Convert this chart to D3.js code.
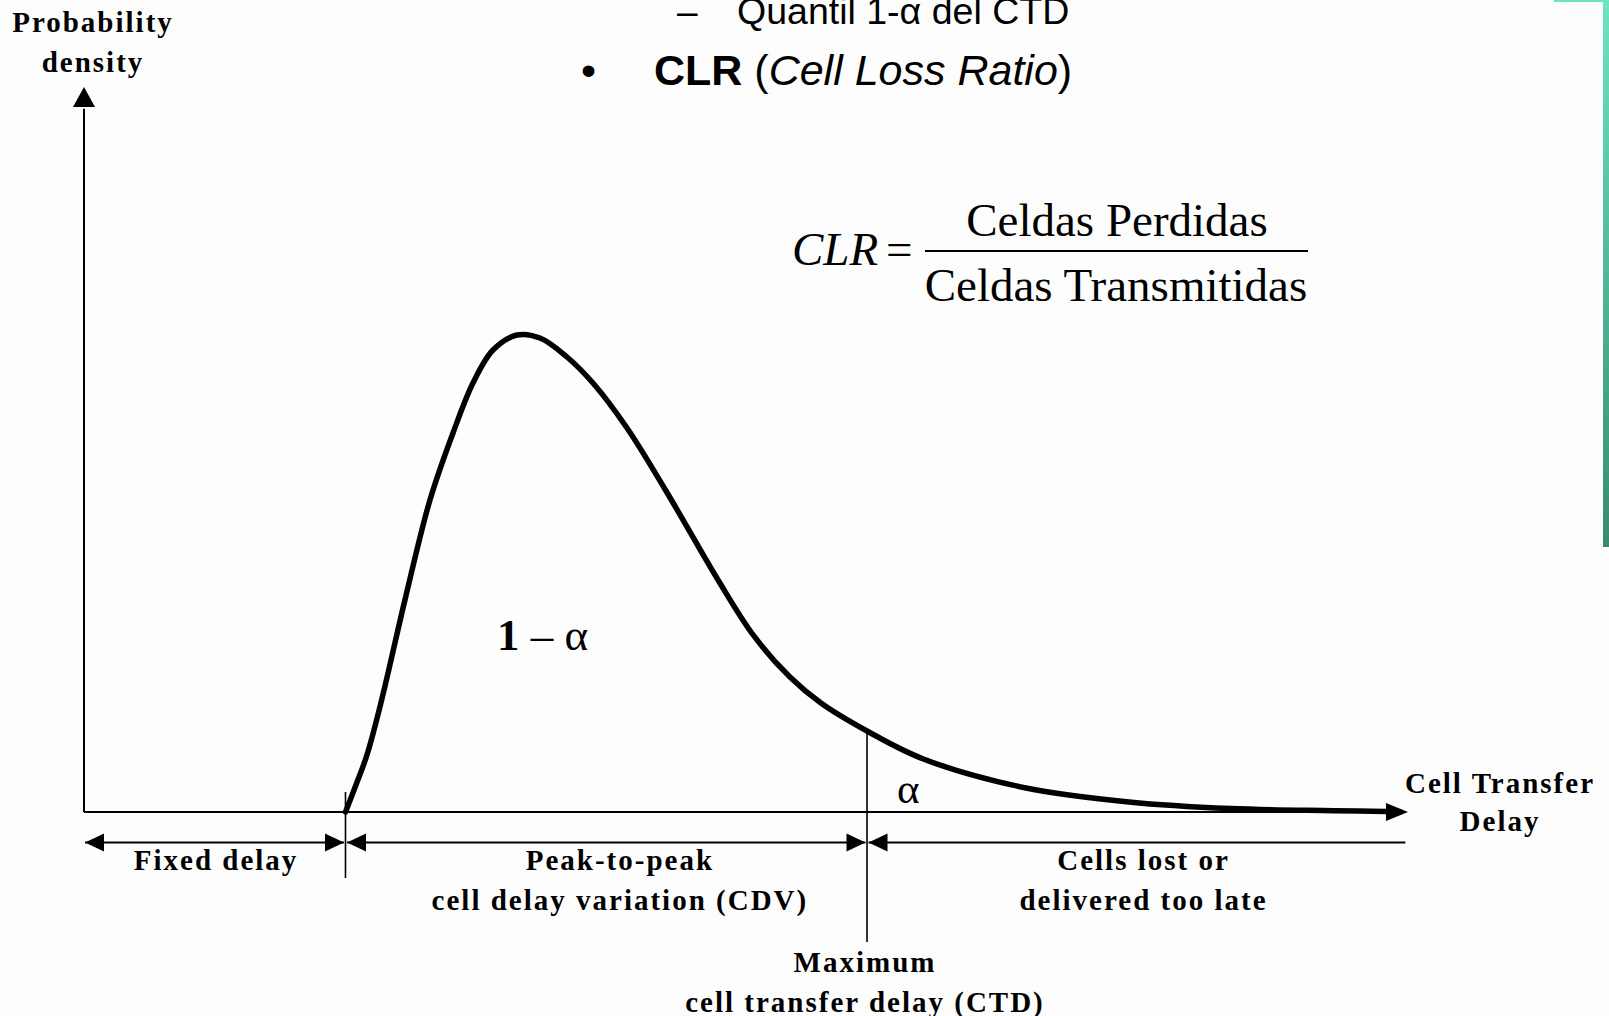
<!DOCTYPE html>
<html>
<head>
<meta charset="utf-8">
<script src="https://cdn.jsdelivr.net/npm/d3@7"></script>
<style>
  html, body { margin: 0; padding: 0; background: #fdfdfd; }
  svg { display: block; }
</style>
</head>
<body>
<svg id="chart" width="1609" height="1016"></svg>
<script>
// ---- data ----
// cell transfer delay (arbitrary units, 0..100) and probability density (0..100)
const curveDelay   = [19.75, 20.54, 21.37, 22.48, 24.24, 26.13, 27.87, 29.38, 30.89, 32.70, 34.44, 36.48, 38.44, 41.00, 44.03, 47.89, 50.60, 53.32, 55.66, 59.14, 63.40, 71.15, 78.93, 86.63, 94.40, 99.40];
const curveDensity = [0.00, 3.72, 7.86, 15.45, 29.24, 43.03, 52.28, 59.17, 63.72, 65.79, 65.38, 62.76, 59.17, 53.00, 44.07, 32.00, 24.28, 18.62, 15.03, 11.17, 7.31, 3.31, 1.38, 0.47, 0.18, 0.04];
const fixedDelay = 19.75;     // end of fixed delay
const maxCTD = 59.14;         // maximum cell transfer delay (1-alpha quantile)
const axisEnd = 100;          // end of delay axis
const regionSpans = [          // [from, to, leftArrow, rightArrow]
  [0, fixedDelay, true, true],
  [fixedDelay, maxCTD, true, true],
  [maxCTD, 99.8, true, false]
];
const regionLabels = [
  {lines: ["Fixed delay"], at: 9.9},
  {lines: ["Peak-to-peak", "cell delay variation (CDV)"], at: 40.4},
  {lines: ["Cells lost or", "delivered too late"], at: 79.95}
];
const yAxisTitle = ["Probability", "density"];
const xAxisTitle = ["Cell Transfer", "Delay"];
const ctdLabel = ["Maximum", "cell transfer delay (CTD)"];

// ---- scales ----
const x = d3.scaleLinear().domain([0, 100]).range([84, 1408]);
const y = d3.scaleLinear().domain([0, 100]).range([812, 87]);

const svg = d3.select("#chart");
const serifBold = "'Liberation Serif', 'Times New Roman', serif";

// background
svg.append("rect").attr("width", 1609).attr("height", 1016).attr("fill", "#fdfdfd");

// decorative slide frame (green gradient)
const defs = svg.append("defs");
const grad = defs.append("linearGradient").attr("id", "gbar")
  .attr("x1", 0).attr("y1", 0).attr("x2", 0).attr("y2", 1);
grad.append("stop").attr("offset", "0%").attr("stop-color", "#6ee4c1");
grad.append("stop").attr("offset", "100%").attr("stop-color", "#3a8a70");
svg.append("rect").attr("x", 1603).attr("y", 0).attr("width", 6).attr("height", 547).attr("fill", "url(#gbar)");
svg.append("rect").attr("x", 1554).attr("y", 0).attr("width", 55).attr("height", 2).attr("fill", "#6ee4c1");

// ---- top slide text ----
const sans = "'Liberation Sans', Arial, sans-serif";
svg.append("text").attr("x", 677).attr("y", 24).attr("font-family", sans).attr("font-size", 37)
  .attr("fill", "#000").text("–");
svg.append("text").attr("x", 737).attr("y", 24).attr("font-family", sans).attr("font-size", 37.5)
  .attr("fill", "#000").text("Quantil 1-α del CTD");
svg.append("text").attr("x", 581).attr("y", 85).attr("font-family", sans).attr("font-size", 43)
  .attr("fill", "#000").text("•");
const clr = svg.append("text").attr("x", 654).attr("y", 85).attr("font-family", sans).attr("font-size", 43).attr("fill", "#000");
clr.append("tspan").attr("font-weight", "bold").text("CLR");
clr.append("tspan").text(" (");
clr.append("tspan").attr("font-style", "italic").text("Cell Loss Ratio");
clr.append("tspan").text(")");

// formula
const tnr = "'Liberation Serif', 'Times New Roman', serif";
svg.append("text").attr("x", 792).attr("y", 265).attr("font-family", tnr).attr("font-size", 47)
  .attr("font-style", "italic").text("CLR");
svg.append("text").attr("x", 886).attr("y", 265).attr("font-family", tnr).attr("font-size", 47).text("=");
svg.append("line").attr("x1", 925).attr("x2", 1308).attr("y1", 251).attr("y2", 251)
  .attr("stroke", "#000").attr("stroke-width", 2);
svg.append("text").attr("x", 1117).attr("y", 236).attr("text-anchor", "middle").attr("font-family", tnr)
  .attr("font-size", 47).text("Celdas Perdidas");
svg.append("text").attr("x", 1116).attr("y", 301).attr("text-anchor", "middle").attr("font-family", tnr)
  .attr("font-size", 47).text("Celdas Transmitidas");

// ---- axes ----
const axisG = svg.append("g");
axisG.append("line").attr("x1", x(0)).attr("x2", x(0)).attr("y1", y(0)).attr("y2", y(97))
  .attr("stroke", "#000").attr("stroke-width", 2);
axisG.append("path")
  .attr("d", `M${x(0)},${y(100)} L${x(0) - 11},${y(100) + 20} L${x(0) + 11},${y(100) + 20} Z`)
  .attr("fill", "#000");
axisG.append("line").attr("x1", x(0)).attr("x2", x(axisEnd) - 18).attr("y1", y(0)).attr("y2", y(0))
  .attr("stroke", "#000").attr("stroke-width", 2);
axisG.append("path")
  .attr("d", `M${x(axisEnd)},${y(0)} L${x(axisEnd) - 22},${y(0) - 9} L${x(axisEnd) - 22},${y(0) + 9} Z`)
  .attr("fill", "#000");

// ---- density curve ----
const line = d3.line()
  .x(d => x(d[0]))
  .y(d => y(d[1]))
  .curve(d3.curveCatmullRom.alpha(0.5));
svg.append("path")
  .datum(curveDelay.map((d, i) => [d, curveDensity[i]]))
  .attr("d", line)
  .attr("fill", "none")
  .attr("stroke", "#000")
  .attr("stroke-width", 5.5)
  .attr("stroke-linecap", "round")
  .attr("stroke-linejoin", "round");

// ---- vertical markers ----
svg.append("line").attr("x1", x(fixedDelay)).attr("x2", x(fixedDelay))
  .attr("y1", 792).attr("y2", 878).attr("stroke", "#000").attr("stroke-width", 1.6);
const idx = curveDelay.indexOf(maxCTD);
svg.append("line").attr("x1", x(maxCTD)).attr("x2", x(maxCTD))
  .attr("y1", y(curveDensity[idx])).attr("y2", 942).attr("stroke", "#000").attr("stroke-width", 1.6);

// ---- dimension arrows ----
const dimY = 842.5;
const dimG = svg.append("g");
regionSpans.forEach(([a, b, la, ra]) => {
  const xa = x(a) + (a === 0 ? 1 : 1.5), xb = x(b) - (ra ? 1.5 : 0);
  dimG.append("line").attr("x1", xa).attr("x2", xb).attr("y1", dimY).attr("y2", dimY)
    .attr("stroke", "#000").attr("stroke-width", 2);
  if (la) dimG.append("path").attr("d", `M${xa},${dimY} L${xa + 19},${dimY - 9} L${xa + 19},${dimY + 9} Z`).attr("fill", "#000");
  if (ra) dimG.append("path").attr("d", `M${xb},${dimY} L${xb - 19},${dimY - 9} L${xb - 19},${dimY + 9} Z`).attr("fill", "#000");
});

// ---- labels ----
function labelBlock(lines, cx, y0, dy) {
  const t = svg.append("text").attr("font-family", serifBold).attr("font-weight", "bold")
    .attr("font-size", 29).attr("letter-spacing", 2).attr("text-anchor", "middle").attr("fill", "#000");
  lines.forEach((s, i) => t.append("tspan").attr("x", cx + 1).attr("y", y0 + i * dy).text(s));
}
labelBlock(yAxisTitle, 92, 32, 40);
labelBlock(xAxisTitle, 1499, 793, 38);
regionLabels.forEach(r => labelBlock(r.lines, x(r.at), 870, 40));
labelBlock(ctdLabel, x(maxCTD) - 3, 972, 40);

// area labels
const oneMinus = svg.append("text").attr("x", 497).attr("y", 650).attr("font-family", tnr).attr("font-size", 45).attr("fill", "#000");
oneMinus.append("tspan").attr("font-weight", "bold").text("1");
oneMinus.append("tspan").text(" – α");
svg.append("text").attr("x", 897).attr("y", 803).attr("font-family", tnr).attr("font-size", 43)
  .attr("fill", "#000").text("α");
</script>
</body>
</html>
